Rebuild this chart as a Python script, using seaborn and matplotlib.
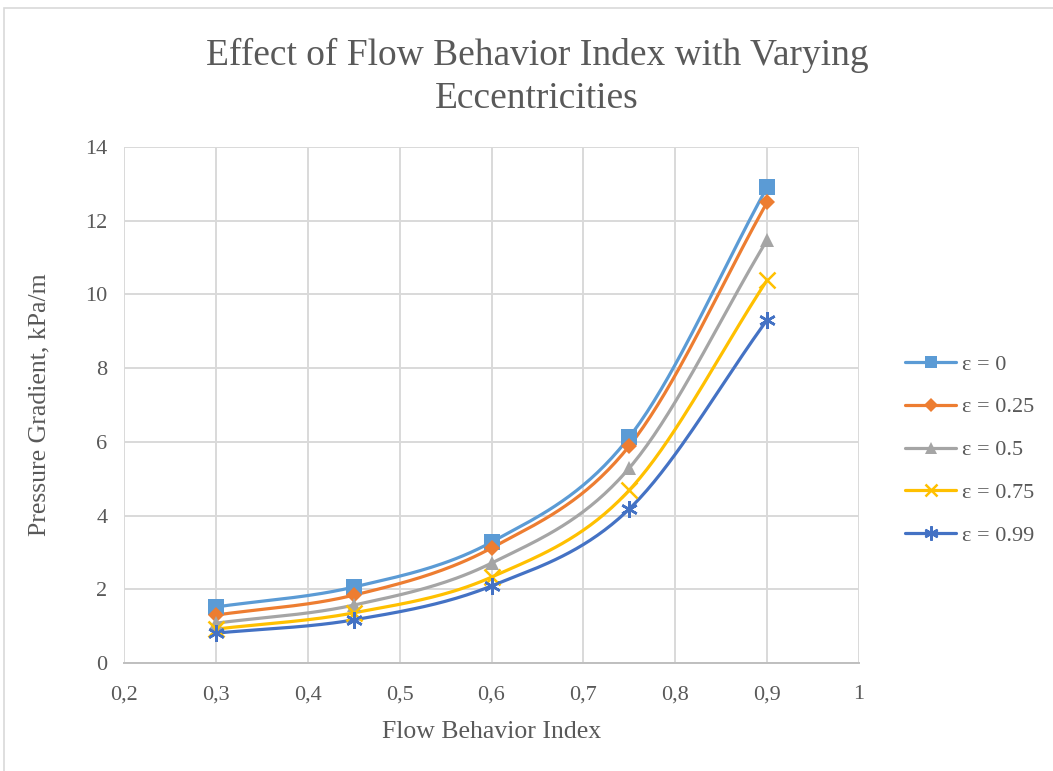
import numpy as np
import pandas as pd
import matplotlib
matplotlib.use("Agg")
import matplotlib.pyplot as plt
from matplotlib.patches import Rectangle
import seaborn as sns

# Data
flow_index = [0.3, 0.45, 0.6, 0.75, 0.9]
series_labels = ["ε = 0", "ε = 0.25", "ε = 0.5", "ε = 0.75", "ε = 0.99"]
grad_e000 = [1.52, 2.06, 3.28, 6.13, 12.91]
grad_e025 = [1.30, 1.84, 3.12, 5.89, 12.50]
grad_e050 = [1.08, 1.57, 2.71, 5.29, 11.48]
grad_e075 = [0.92, 1.36, 2.33, 4.69, 10.39]
grad_e099 = [0.81, 1.17, 2.09, 4.18, 9.31]
x_ticks = [0.2, 0.3, 0.4, 0.5, 0.6, 0.7, 0.8, 0.9, 1.0]
x_tick_labels = ["0,2", "0,3", "0,4", "0,5", "0,6", "0,7", "0,8", "0,9", "1"]
y_ticks = [0, 2, 4, 6, 8, 10, 12, 14]

all_series = [grad_e000, grad_e025, grad_e050, grad_e075, grad_e099]
colors = ["#5B9BD5", "#ED7D31", "#A5A5A5", "#FFC000", "#4472C4"]
markers = ["s", "D", "^", "x", (6, 2, 0)]
marker_sizes = [11, 8, 10, 11, 12]


def catmull_rom(x, y, n=40):
    """Smooth curve through the points (uniform Catmull-Rom spline)."""
    x = np.asarray(x, float)
    y = np.asarray(y, float)
    px = np.concatenate([[2 * x[0] - x[1]], x, [2 * x[-1] - x[-2]]])
    py = np.concatenate([[2 * y[0] - y[1]], y, [2 * y[-1] - y[-2]]])
    xs, ys = [], []
    t = np.linspace(0, 1, n)
    for i in range(1, len(px) - 2):
        for p, out in ((px, xs), (py, ys)):
            p0, p1, p2, p3 = p[i - 1], p[i], p[i + 1], p[i + 2]
            out.append(0.5 * ((2 * p1) + (-p0 + p2) * t
                              + (2 * p0 - 5 * p1 + 4 * p2 - p3) * t ** 2
                              + (-p0 + 3 * p1 - 3 * p2 + p3) * t ** 3))
    return np.concatenate(xs), np.concatenate(ys)


sns.set_theme(style="white")
plt.rcParams["font.family"] = ["Liberation Serif", "DejaVu Serif"]
text_color = "#595959"
grid_color = "#D9D9D9"

fig = plt.figure(figsize=(10.53, 7.71), dpi=100)
fig.patches.append(Rectangle((4 / 1053, -0.1), 1.2, 1 - 8 / 771 + 0.1,
                             transform=fig.transFigure, fill=False,
                             edgecolor="#D9D9D9", linewidth=1.2))
ax = fig.add_axes([124 / 1053, 1 - 663 / 771, (859 - 124) / 1053, (663 - 147) / 771])

# Smoothed curves
rows = []
for label, vals in zip(series_labels, all_series):
    sx, sy = catmull_rom(flow_index, vals)
    rows.append(pd.DataFrame({"n": sx, "dp": sy, "series": label}))
curve_df = pd.concat(rows, ignore_index=True)

sns.lineplot(data=curve_df, x="n", y="dp", hue="series", palette=colors,
             hue_order=series_labels, sort=False, estimator=None,
             linewidth=2.3, legend=False, ax=ax)

# Data point markers
point_rows = []
for label, vals in zip(series_labels, all_series):
    point_rows.append(pd.DataFrame({"n": flow_index, "dp": vals, "series": label}))
point_df = pd.concat(point_rows, ignore_index=True)

handles = []
for label, col, mk, ms in zip(series_labels, colors, markers, marker_sizes):
    sub = point_df[point_df["series"] == label]
    mew = 1.8 if mk in ("x", (6, 2, 0)) else 0
    ax.plot(sub["n"], sub["dp"], linestyle="none", marker=mk, markersize=ms,
            color=col, markeredgewidth=mew, zorder=5)
    h, = ax.plot([], [], color=col, linewidth=2.3, marker=mk,
                 markersize=ms * 0.85, markeredgewidth=mew)
    handles.append(h)

ax.set_xlim(0.2, 1.0)
ax.set_ylim(0, 14)
ax.set_xticks(x_ticks)
ax.set_xticklabels(x_tick_labels)
ax.set_yticks(y_ticks)
ax.grid(True, color=grid_color, linewidth=1.4)
ax.set_axisbelow(True)
for side in ("top", "right", "left"):
    ax.spines[side].set_visible(False)
ax.spines["bottom"].set_color("#BFBFBF")
ax.spines["bottom"].set_linewidth(1.4)
ax.tick_params(axis="both", length=0, labelsize=16, labelcolor=text_color)
ax.tick_params(axis="x", pad=16)
ax.tick_params(axis="y", pad=12)

ax.set_xlabel("Flow Behavior Index", fontsize=18.5, color=text_color, labelpad=12)
ax.set_ylabel("Pressure Gradient, kPa/m", fontsize=18.5, color=text_color, labelpad=25)

fig.text(537 / 1053, 1 - 77 / 771, "Effect of Flow Behavior Index with Varying\nEccentricities",
         ha="center", va="center", fontsize=27, color=text_color, linespacing=1.33)

leg = fig.legend(handles, series_labels, loc="center left",
                 bbox_to_anchor=(885 / 1053, 1 - 450 / 771), frameon=False,
                 fontsize=16, labelcolor=text_color, handlelength=2.3,
                 handletextpad=0.25, labelspacing=1.0)

fig.savefig("out.png", dpi=100)
